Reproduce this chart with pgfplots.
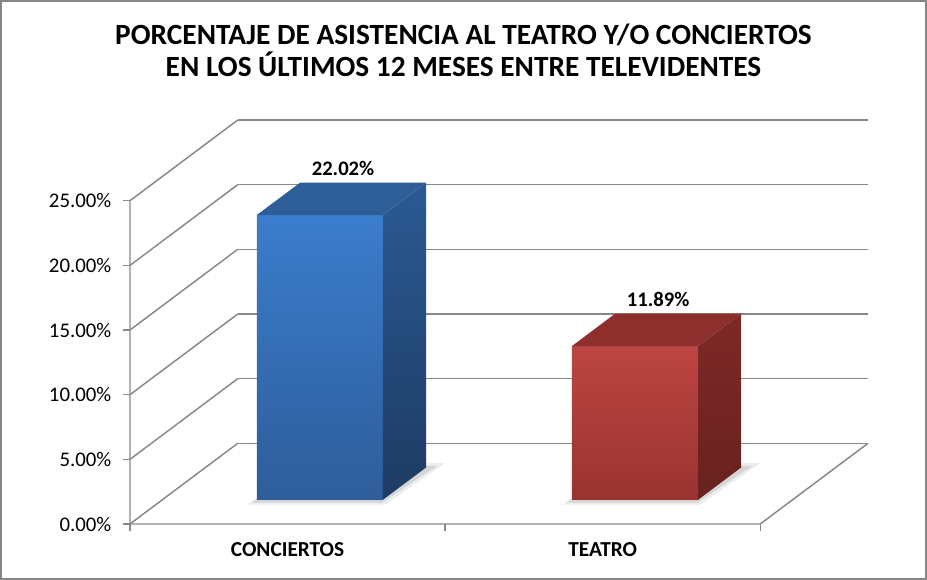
\documentclass[border=0pt]{standalone}
\usepackage{pgfplots}
\pgfplotsset{compat=1.18}
\usepackage{fontspec}
\setmainfont{Carlito}
\definecolor{gridc}{HTML}{888888}
\definecolor{frame}{HTML}{868686}
\definecolor{bFT}{HTML}{3B7DCD}
\definecolor{bFB}{HTML}{2E5D9A}
\definecolor{bST}{HTML}{2B5A94}
\definecolor{bSB}{HTML}{1E3B62}
\definecolor{bTop}{HTML}{2D5E98}
\definecolor{rFT}{HTML}{BC4541}
\definecolor{rFB}{HTML}{9A3330}
\definecolor{rST}{HTML}{7E2927}
\definecolor{rSB}{HTML}{682120}
\definecolor{rTop}{HTML}{8E2F2D}
% depth offsets: D = 0.342 (x units), E = 6.24 (y units)
\newcommand\drawbar[7]{% #1 left x (front plane), #2 value, #3-#7 colours
  \pgfmathsetmacro\xl{#1+0.1026}\pgfmathsetmacro\xr{#1+0.5026}%
  \pgfmathsetmacro\xll{#1+0.2394}\pgfmathsetmacro\xrr{#1+0.6394}%
  \pgfmathsetmacro\yt{#2+1.872}\pgfmathsetmacro\ytt{#2+4.368}%
  \pgfmathsetmacro\sxa{#1+0.07}\pgfmathsetmacro\sxb{#1+0.51}\pgfmathsetmacro\sxc{#1+0.70}\pgfmathsetmacro\sxd{#1+0.28}%
  \pgfmathsetmacro\sxA{#1+0.085}\pgfmathsetmacro\sxB{#1+0.50}\pgfmathsetmacro\sxC{#1+0.675}\pgfmathsetmacro\sxD{#1+0.26}%
  \edef\temp{%
    \noexpand\addplot[draw=none,fill=black,fill opacity=0.07] coordinates {(\sxa,1.5) (\sxb,1.5) (\sxc,4.7) (\sxd,4.7)} --cycle;
    \noexpand\addplot[draw=none,fill=black,fill opacity=0.10] coordinates {(\sxA,1.65) (\sxB,1.65) (\sxC,4.5) (\sxD,4.5)} --cycle;
    \noexpand\addplot[draw=none,top color=#3,bottom color=#4] coordinates {(\xl,1.872) (\xr,1.872) (\xr,\yt) (\xl,\yt)} --cycle;
    \noexpand\addplot[draw=none,top color=#5,bottom color=#6] coordinates {(\xr,1.872) (\xrr,4.368) (\xrr,\ytt) (\xr,\yt)} --cycle;
    \noexpand\addplot[draw=none,fill=#7] coordinates {(\xl,\yt) (\xr,\yt) (\xrr,\ytt) (\xll,\ytt)} --cycle;
  }\temp
}
\begin{document}
\begin{tikzpicture}
\useasboundingbox (0,0) rectangle (695.25pt,435pt);
\draw[frame,line width=1.6pt] (0.8pt,0.8pt) rectangle (694.45pt,434.2pt);
\node[anchor=base,font=\bfseries\fontsize{22}{26}\selectfont] at (347.6pt,401.25pt) {PORCENTAJE DE ASISTENCIA AL TEATRO Y/O CONCIERTOS};
\node[anchor=base,font=\bfseries\fontsize{22}{26}\selectfont] at (347.6pt,377.25pt) {EN LOS ÚLTIMOS 12 MESES ENTRE TELEVIDENTES};
\begin{axis}[
  at={(97.5pt,42pt)}, anchor=south west,
  scale only axis, width=553.5pt, height=303pt,
  xmin=0, xmax=2.342, ymin=0, ymax=31.24,
  axis line style={draw=none},
  clip=false,
  tick align=outside, xtick pos=bottom, ytick pos=left,
  major tick length=5pt,
  tick style={gridc,line width=1.1pt},
  xtick={0,1,2}, xticklabels={},
  extra x ticks={0.5,1.5},
  extra x tick labels={CONCIERTOS,TEATRO},
  extra x tick style={major tick length=0pt,
    xticklabel style={font=\bfseries\fontsize{16}{19}\selectfont, anchor=base, yshift=-24.75pt}},
  ytick={0,5,10,15,20,25},
  yticklabel={\pgfmathprintnumber[fixed,fixed zerofill,precision=2]{\tick}\%},
  yticklabel style={font=\fontsize{15.6}{18}\selectfont, xshift=-5.5pt},
  /pgf/number format/assume math mode=true,
]
% back wall gridlines
\addplot[gridc,line width=1.1pt] coordinates {(0.342,6.24) (2.342,6.24)};
\addplot[gridc,line width=1.1pt] coordinates {(0.342,11.24) (2.342,11.24)};
\addplot[gridc,line width=1.1pt] coordinates {(0.342,16.24) (2.342,16.24)};
\addplot[gridc,line width=1.1pt] coordinates {(0.342,21.24) (2.342,21.24)};
\addplot[gridc,line width=1.1pt] coordinates {(0.342,26.24) (2.342,26.24)};
\addplot[gridc,line width=1.1pt] coordinates {(0.342,31.24) (2.342,31.24)};
% side wall diagonals
\addplot[gridc,line width=1.1pt] coordinates {(0,0) (0.342,6.24)};
\addplot[gridc,line width=1.1pt] coordinates {(0,5) (0.342,11.24)};
\addplot[gridc,line width=1.1pt] coordinates {(0,10) (0.342,16.24)};
\addplot[gridc,line width=1.1pt] coordinates {(0,15) (0.342,21.24)};
\addplot[gridc,line width=1.1pt] coordinates {(0,20) (0.342,26.24)};
\addplot[gridc,line width=1.1pt] coordinates {(0,25) (0.342,31.24)};
% floor and front axis
\addplot[gridc,line width=1.1pt] coordinates {(0,25) (0,0) (2,0) (2.342,6.24)};
% bars
\drawbar{0.3}{22.02}{bFT}{bFB}{bST}{bSB}{bTop}
\drawbar{1.3}{11.89}{rFT}{rFB}{rST}{rSB}{rTop}
% value labels
\addplot[draw=none, mark=none, nodes near coords={\pgfmathprintnumber[fixed,fixed zerofill,precision=2]{\pgfplotspointmeta}\%},
  every node near coord/.append style={anchor=center, yshift=52.8pt, font=\bfseries\fontsize{15.5}{18}\selectfont, text=black}]
  coordinates {(0.676,22.02) (1.676,11.89)};
\end{axis}
\end{tikzpicture}
\end{document}
